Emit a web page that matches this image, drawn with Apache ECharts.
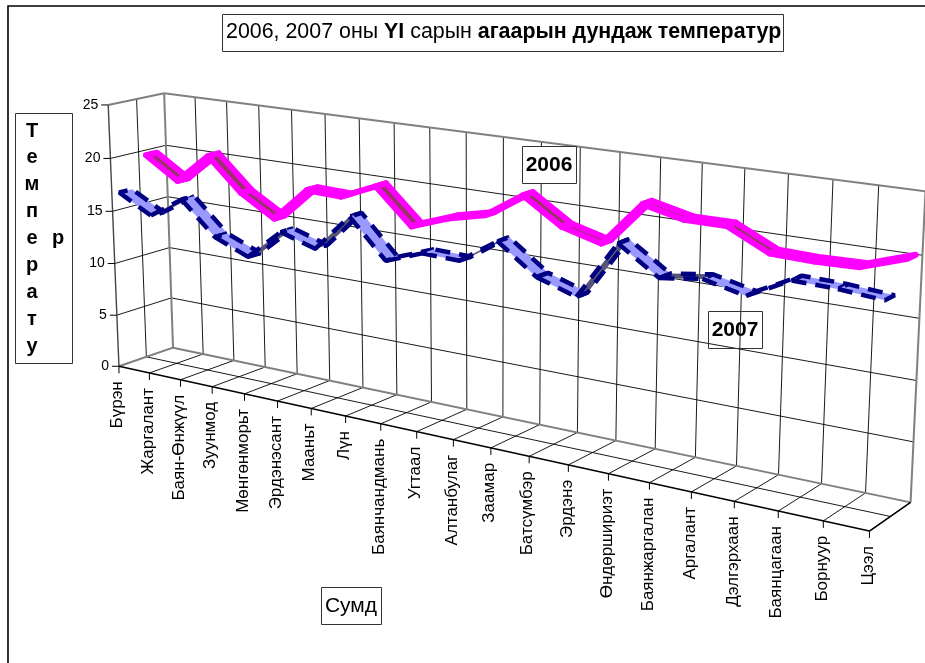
<!DOCTYPE html>
<html><head><meta charset="utf-8">
<style>html,body{margin:0;padding:0;background:#fff}#c{width:925px;height:663px}</style>
<script src="https://cdn.jsdelivr.net/npm/echarts@6/dist/echarts.min.js"></script>
</head><body><div id="c"></div>
<script>
const categories=['Бүрэн','Жаргалант','Баян-Өнжүүл','Зуунмод','Мөнгөнморьт','Эрдэнэсант','Мааньт','Лүн','Баянчандмань','Угтаал','Алтанбулаг','Заамар','Батсүмбэр','Эрдэнэ','Өндөршириэт','Баянжаргалан','Аргалант','Дэлгэрхаан','Баянцагаан','Борнуур','Цээл'];
const valueTicks=[0,5,10,15,20,25];
const values2006=[19.5,17.5,20.3,17.3,15.4,18.5,18.4,19.8,16.7,17.9,18.7,20.9,18.7,17.8,21.6,20.8,20.8,19.1,19.0,19.1,20.3];
const values2007=[16.6,14.9,16.9,13.9,12.6,15.4,14.4,17.8,14.4,15.6,15.5,17.7,15.2,14.1,19.1,16.8,17.3,16.5,18.3,18.2,17.9];

// Oblique view of the 3D box: fitted from reference corners. [x 0..20, value 0..25, depth 0..1, screenX, screenY]
const viewFit=[
[0,0,0,119,366],[5,0,0,278,401],[10,0,0,453,440],[15,0,0,650,483.3],[20,0,0,869,531],
[0,0,1,172.5,347],[5,0,1,329,380.7],[10,0,1,503,417.3],[15,0,1,696,457.3],[20,0,1,911,502.7],
[0,5,0,117,315],[0,10,0,115,263],[0,15,0,113,211],[0,20,0,110,159],[0,25,0,107.5,105],
[0,5,1,171,298],[0,10,1,170,248],[0,15,1,168,197],[0,20,1,166.5,145.5],[0,25,1,164,93],
[20,5,1,913,441],[20,10,1,916,381],[20,15,1,919,318],[20,20,1,922.5,254],[20,25,1,926,192]];
function solve(A,b){const n=b.length;const M=A.map((r,i)=>r.concat(b[i]));
 for(let c=0;c<n;c++){let p=c;for(let r=c+1;r<n;r++)if(Math.abs(M[r][c])>Math.abs(M[p][c]))p=r;
  [M[c],M[p]]=[M[p],M[c]];
  for(let r=0;r<n;r++){if(r===c)continue;const f=M[r][c]/M[c][c];for(let k=c;k<=n;k++)M[r][k]-=f*M[c][k];}}
 return M.map((r,i)=>r[n]/r[i]);}
const P=(function(){const rows=[],rhs=[];
 viewFit.forEach(q=>{const a=q[0]/20,b=q[1]/25,c=q[2],X=q[3]/1000,Y=q[4]/1000;
  rows.push([a,b,c,1,0,0,0,0,-X*a,-X*b,-X*c]);rhs.push(X);
  rows.push([0,0,0,0,a,b,c,1,-Y*a,-Y*b,-Y*c]);rhs.push(Y);});
 const A=[],B=[];for(let i=0;i<11;i++){A.push([]);let s=0;
  for(let j=0;j<11;j++){let t=0;rows.forEach(r=>t+=r[i]*r[j]);A[i].push(t);}
  rows.forEach((r,k)=>s+=r[i]*rhs[k]);B.push(s);}
 return solve(A,B);})();
function proj(u,w,d){const h=P[8]*u+P[9]*w+P[10]*d+1;
 return [1000*(P[0]*u+P[1]*w+P[2]*d+P[3])/h,1000*(P[4]*u+P[5]*w+P[6]*d+P[7])/h];}
const plotRect={x:100,y:100,w:700,h:400};
// category index + value go through the ECharts axes, then through the view
function pt(api,i,v,d){const p=api.coord([i,v]);const r=plotRect;
 const u=(p[0]-r.x)/r.w,w=1-(p[1]-r.y)/r.h;return proj(u,w,d);}

const GRID='#000',EDGE='#808080';
const lastCat=categories.length-1,topVal=valueTicks[valueTicks.length-1];
const lines=[];
valueTicks.forEach(v=>{ if(v>0&&v<topVal){lines.push([0,v,0,0,v,1,0]);lines.push([0,v,1,lastCat,v,1,0]);}});
categories.forEach((c,i)=>{ lines.push([i,0,0,i,0,1,0]); if(i>0&&i<lastCat)lines.push([i,0,1,i,topVal,1,0]);});
lines.push([0,0,.5,lastCat,0,.5,0]);lines.push([0,0,.5,0,topVal,.5,0]);
lines.push([0,0,1,0,topVal,1,1]);lines.push([lastCat,0,1,lastCat,topVal,1,1]);
lines.push([0,topVal,0,0,topVal,1,1]);lines.push([0,topVal,1,lastCat,topVal,1,1]);
lines.push([0,0,0,0,0,1,1]);lines.push([0,0,1,lastCat,0,1,1]);
lines.push([0,0,0,0,topVal,0,2]);lines.push([0,0,0,lastCat,0,0,3]);lines.push([lastCat,0,0,lastCat,0,1,3]);
const lineStyles=[{stroke:GRID,lineWidth:.9},{stroke:EDGE,lineWidth:2},{stroke:'#444',lineWidth:1.4},{stroke:'#000',lineWidth:1.5}];

function ribbon(name,vals,d0,d1,stroke,width,fillDown,fillUp,dash,join){
 return {type:'custom',name,coordinateSystem:'cartesian2d',clip:false,silent:true,
  data:vals.map((v,i)=>[i,v]),
  renderItem(params,api){const i=params.dataIndex;if(i>=lastCat)return null;
   const a=api.value(1,i),b=api.value(1,i+1);
   const pts=[pt(api,i,a,d0),pt(api,i+1,b,d0),pt(api,i+1,b,d1),pt(api,i,a,d1)];
   return {type:'polygon',shape:{points:pts},style:{fill:b>a?fillUp:fillDown,stroke,lineWidth:width,lineDash:dash||null,lineJoin:join,lineCap:'butt'}};
  }};
}
const fontName='"Liberation Sans",Arial,sans-serif';
function box(x,y,w,h,fill,z){return {type:'rect',shape:{x:x+.5,y:y+.5,width:w,height:h},style:{fill:fill||'transparent',stroke:'#333',lineWidth:1},z:z||20};}
function label(t,x,y,size,weight){return {type:'text',x,y,style:{text:t,font:(weight||'normal')+' '+size+'px '+fontName,fill:'#000',align:'center',verticalAlign:'middle'},z:21};}
const col=['Т','е','м','п','е','р','а','т','у'];

const chart=echarts.init(document.getElementById('c'),null,{renderer:'canvas'});
chart.setOption({animation:false,backgroundColor:'#fff',
 title:{show:true,left:226,top:18,padding:0,z:30,
  text:'{n|2006, 2007 оны }{b|YI}{n| сарын }{b|агаарын дундаж температур}',
  textStyle:{rich:{n:{fontFamily:fontName,fontSize:21.4,fontWeight:'normal',color:'#000',lineHeight:29},b:{fontFamily:fontName,fontSize:21.4,fontWeight:'bold',color:'#000',lineHeight:29}}}},
 grid:{left:plotRect.x,top:plotRect.y,width:plotRect.w,height:plotRect.h,show:false},
 xAxis:{type:'category',data:categories,boundaryGap:false,show:false},
 yAxis:{type:'value',min:0,max:topVal,interval:5,show:false},
 graphic:{elements:[
  {type:'rect',shape:{x:8,y:6,width:1000,height:1000},style:{fill:'transparent',stroke:'#000',lineWidth:1.6},z:1,silent:true},
  box(222,14,561,37,'#fff'),
  box(15,113,57,250,'#fff'),
  ...col.map((c,i)=>label(c,32,131+i*26.9,20,'bold')),
  label('р',58,238,20,'bold'),
  box(321,587,60,37,'#fff'),label('Сумд',351,606,21),
  box(522,146,54,37,'#fff'),label('2006',549,165,21,'bold'),
  box(708,311,54,37),label('2007',735,330,21,'bold')
 ]},
 series:[
  {type:'custom',name:'grid',coordinateSystem:'cartesian2d',clip:false,silent:true,data:lines,
   renderItem(params,api){const l=lines[params.dataIndex];
    const a=pt(api,l[0],l[1],l[2]),b=pt(api,l[3],l[4],l[5]);
    return {type:'line',shape:{x1:a[0],y1:a[1],x2:b[0],y2:b[1]},style:lineStyles[l[6]]};}},
  {type:'custom',name:'xticks',coordinateSystem:'cartesian2d',clip:false,silent:true,data:categories.map((c,i)=>[i,0]),
   renderItem(params,api){const i=params.dataIndex;const a=pt(api,i,0,0);
    return {type:'group',children:[
     {type:'line',shape:{x1:a[0],y1:a[1],x2:a[0],y2:a[1]+7},style:{stroke:'#000',lineWidth:1}},
     {type:'text',x:a[0]-1.5,y:a[1]+15,rotation:Math.PI/2,style:{text:categories[i],font:'17px '+fontName,fill:'#000',align:'right',verticalAlign:'middle'}}]};}},
  {type:'custom',name:'yticks',coordinateSystem:'cartesian2d',clip:false,silent:true,data:valueTicks.map(v=>[0,v]),
   renderItem(params,api){const v=valueTicks[params.dataIndex];const a=pt(api,0,v,0);
    return {type:'group',children:[
     {type:'line',shape:{x1:a[0]-7,y1:a[1],x2:a[0],y2:a[1]},style:{stroke:'#000',lineWidth:1}},
     {type:'text',x:a[0]-10,y:a[1],style:{text:String(v),font:'14px '+fontName,fill:'#000',align:'right',verticalAlign:'middle'}}]};}},
  ribbon('2006',values2006,.63,.83,'#FF00FF',6,'#993366','#4d1a33',null,'round'),
  ribbon('2007',values2007,.13,.36,'#000080',4.5,'#9999FF','#555577',[15,9],'bevel')
 ]});
</script></body></html>
